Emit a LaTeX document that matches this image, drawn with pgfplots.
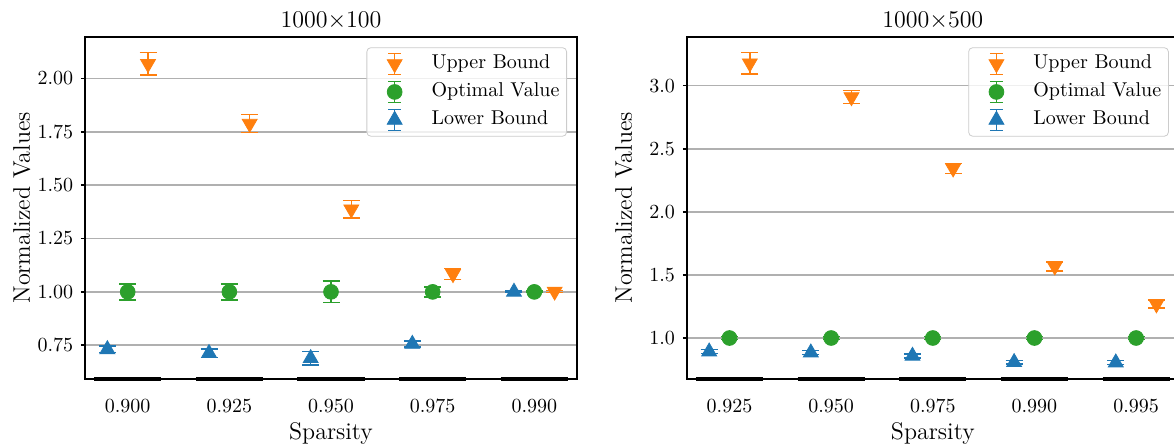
\documentclass[border=0pt]{standalone}
\usepackage{pgfplots}
\pgfplotsset{compat=1.18}

\definecolor{tabblue}{HTML}{1F77B4}
\definecolor{taborange}{HTML}{FF7F0E}
\definecolor{tabgreen}{HTML}{2CA02C}
\definecolor{gridgray}{HTML}{B0B0B0}
\definecolor{legendgray}{HTML}{CCCCCC}

% marker + error bar used as legend symbol
\pgfplotsset{
  errlegend/.style={
    legend image code/.code={
      \path[draw=none, fill=none] (-10.3pt,0pt) -- (3.5pt,0pt);
      \draw[line width=0.75pt, draw opacity=1] (0pt,-5.25pt) -- (0pt,5.25pt);
      \draw[line width=0.75pt, draw opacity=1] (-3.3pt,-5.25pt) -- (3.3pt,-5.25pt);
      \draw[line width=0.75pt, draw opacity=1] (-3.3pt,5.25pt) -- (3.3pt,5.25pt);
      \draw[fill opacity=1, draw opacity=1] plot coordinates {(0pt,0pt)};
    }
  },
  panel/.style={
    scale only axis, width=246pt, height=171.15pt,
    anchor=south west,
    xmin=-0.42, xmax=4.42,
    xtick={0,1,2,3,4},
    xtick style={draw=none},
    ytick pos=left, ytick align=outside,
    major tick length=2pt,
    ytick style={black, line width=0.8pt},
    axis line style={line width=0.8pt},
    ymajorgrids, grid style={gridgray, line width=0.8pt},
    clip=false,
    tick label style={font=\fontsize{10}{12}\selectfont},
    label style={font=\fontsize{12}{14}\selectfont},
    every axis title shift=0pt,
    title style={font=\fontsize{13}{15}\selectfont, at={(0.5,1.0283)},
      anchor=base, yshift=0pt},
    xlabel style={at={(0.5,-0.1765)}, anchor=base},
    xticklabel style={anchor=base, yshift=-16.9pt},
    yticklabel style={anchor=east, inner sep=0pt, xshift=-3.75pt},
    xlabel={Sparsity}, ylabel={Normalized Values},
    error bars/y dir=both, error bars/y explicit,
    error bars/error bar style={line width=0.75pt},
    error bars/error mark options={rotate=90, line width=0.75pt, mark size=4.25pt},
    legend style={
      at={(1,1)}, anchor=north east, xshift=-5pt, yshift=-5.3pt,
      draw=legendgray, rounded corners=2pt, fill=white, fill opacity=0.8,
      text opacity=1, draw opacity=1,
      font=\fontsize{10}{12}\selectfont,
      inner xsep=3.6pt, inner ysep=2.5pt,
      nodes={inner sep=0pt, text height=7pt, text depth=2pt},
      row sep=2.75pt, column sep=14.75pt,
      cells={anchor=west},
    },
  },
  upper/.style={taborange, only marks, mark=triangle*, mark size=4.3pt,
    mark options={rotate=180, solid}, errlegend},
  optimal/.style={tabgreen, only marks, mark=*, mark size=3.7pt,
    mark options={solid}, errlegend},
  lower/.style={tabblue, only marks, mark=triangle*, mark size=4.3pt,
    mark options={solid}, errlegend},
  floorbars/.style={black, line width=1.8pt, forget plot, unbounded coords=jump,
    error bars/y dir=none},
}

\begin{document}
\begin{tikzpicture}
\path[use as bounding box, clip] (0,0) rectangle (587pt,223.5pt);

% ---- 1000 x 100 ----
\begin{axis}[panel, at={(42.5pt,34pt)},
  title={$1000{\times}100$},
  xticklabels={0.900,0.925,0.950,0.975,0.990},
  ymin=0.592, ymax=2.195,
  ytick={0.75,1.00,1.25,1.50,1.75,2.00},
  yticklabel={\pgfmathprintnumber[fixed,fixed zerofill,precision=2]{\tick}},
]
\addplot[floorbars] coordinates {
  (-0.33,0.592) (0.33,0.592) (0.5,nan)
  (0.67,0.592) (1.33,0.592) (1.5,nan)
  (1.67,0.592) (2.33,0.592) (2.5,nan)
  (2.67,0.592) (3.33,0.592) (3.5,nan)
  (3.67,0.592) (4.33,0.592)};
\addplot[upper] coordinates {
  (0.2,2.068) +- (0,0.052)
  (1.2,1.788) +- (0,0.042)
  (2.2,1.387) +- (0,0.040)
  (3.2,1.084) +- (0,0.025)
  (4.2,1.002) +- (0,0.005)};
\addlegendentry{Upper Bound}
\addplot[optimal] coordinates {
  (0,1.0) +- (0,0.038)
  (1,1.0) +- (0,0.038)
  (2,1.0) +- (0,0.050)
  (3,1.0) +- (0,0.024)
  (4,1.0) +- (0,0.004)};
\addlegendentry{Optimal Value}
\addplot[lower] coordinates {
  (-0.2,0.731) +- (0,0.015)
  (0.8,0.713) +- (0,0.020)
  (1.8,0.689) +- (0,0.031)
  (2.8,0.756) +- (0,0.015)
  (3.8,1.000) +- (0,0.003)};
\addlegendentry{Lower Bound}
\end{axis}

% ---- 1000 x 500 ----
\begin{axis}[panel, at={(343.4pt,34pt)},
  title={$1000{\times}500$},
  xticklabels={0.925,0.950,0.975,0.990,0.995},
  ymin=0.675, ymax=3.388,
  ytick={1.0,1.5,2.0,2.5,3.0},
  yticklabel={\pgfmathprintnumber[fixed,fixed zerofill,precision=1]{\tick}},
  ylabel style={at={(-0.0961,0.5)}},
]
\addplot[floorbars] coordinates {
  (-0.33,0.675) (0.33,0.675) (0.5,nan)
  (0.67,0.675) (1.33,0.675) (1.5,nan)
  (1.67,0.675) (2.33,0.675) (2.5,nan)
  (2.67,0.675) (3.33,0.675) (3.5,nan)
  (3.67,0.675) (4.33,0.675)};
\addplot[upper] coordinates {
  (0.2,3.178) +- (0,0.085)
  (1.2,2.910) +- (0,0.053)
  (2.2,2.345) +- (0,0.040)
  (3.2,1.568) +- (0,0.035)
  (4.2,1.268) +- (0,0.032)};
\addlegendentry{Upper Bound}
\addplot[optimal] coordinates {
  (0,1.0) +- (0,0.010)
  (1,1.0) +- (0,0.010)
  (2,1.0) +- (0,0.010)
  (3,1.0) +- (0,0.010)
  (4,1.0) +- (0,0.010)};
\addlegendentry{Optimal Value}
\addplot[lower] coordinates {
  (-0.2,0.892) +- (0,0.015)
  (0.8,0.884) +- (0,0.015)
  (1.8,0.858) +- (0,0.015)
  (2.8,0.808) +- (0,0.015)
  (3.8,0.805) +- (0,0.015)};
\addlegendentry{Lower Bound}
\end{axis}
\end{tikzpicture}
\end{document}
